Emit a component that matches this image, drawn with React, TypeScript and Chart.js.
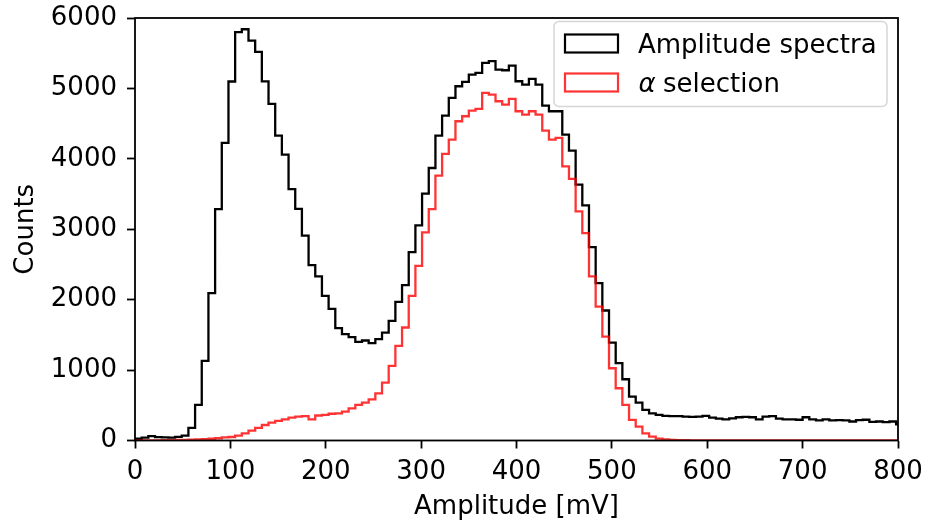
import React, { useEffect, useRef } from "react";
import { Chart, registerables } from "chart.js";

Chart.register(...registerables);

// Histogram bin edges [mV] (bin width 7 mV)
const binEdges = [
  0, 7, 14, 21, 28, 35, 42, 49, 56, 63, 70, 77, 84, 91, 98, 105, 112, 119, 126, 133,
  140, 147, 154, 161, 168, 175, 182, 189, 196, 203, 210, 217, 224, 231, 238, 245, 252, 259, 266, 273,
  280, 287, 294, 301, 308, 315, 322, 329, 336, 343, 350, 357, 364, 371, 378, 385, 392, 399, 406, 413,
  420, 427, 434, 441, 448, 455, 462, 469, 476, 483, 490, 497, 504, 511, 518, 525, 532, 539, 546, 553,
  560, 567, 574, 581, 588, 595, 602, 609, 616, 623, 630, 637, 644, 651, 658, 665, 672, 679, 686, 693,
  700, 707, 714, 721, 728, 735, 742, 749, 756, 763, 770, 777, 784, 791, 798, 805,
];

// Counts per bin: full amplitude spectrum
const amplitudeCounts = [
  25, 40, 62, 48, 45, 40, 52, 68, 180, 505,
  1130, 2093, 3287, 4226, 5098, 5800, 5840, 5680, 5520, 5100,
  4780, 4330, 4060, 3570, 3290, 2910, 2490, 2330, 2055, 1870,
  1595, 1510, 1467, 1400, 1420, 1382, 1440, 1533, 1700, 1970,
  2206, 2675, 3054, 3505, 3870, 4330, 4614, 4865, 5031, 5093,
  5197, 5220, 5363, 5387, 5268, 5258, 5325, 5102, 5055, 5136,
  5055, 4756, 4676, 4676, 4345, 4117, 3634, 3340, 2747, 2235,
  1846, 1390, 1100, 870, 623, 537, 434, 386, 363,
  350, 345, 345, 340, 335, 340, 350, 325, 310, 300,
  315, 330, 335, 330, 300, 340, 345, 310, 300, 300,
  295, 330, 300, 285, 300, 285, 290, 285, 270, 290,
  295, 265, 270, 260, 270, 230,
];

// Counts per bin: alpha selection
const alphaCounts = [
  0, 0, 2, 3, 5, 5, 8, 10, 12, 15,
  18, 25, 32, 45, 50, 70, 100, 140, 180, 220,
  255, 280, 300, 325, 340, 345, 300, 355, 365, 380,
  385, 410, 455, 505, 538, 585, 670, 822, 1059, 1344,
  1605, 2055, 2481, 2955, 3287, 3761, 4069, 4273, 4534, 4605,
  4685, 4709, 4937, 4913, 4818, 4771, 4851, 4676, 4628, 4676,
  4628, 4401, 4273, 4297, 3894, 3714, 3254, 2946, 2330, 1900,
  1476, 1026, 742, 505, 292, 197, 102, 55, 26, 15,
  10, 6, 4, 3,
  2, 2, 2, 1, 1, 1, 1, 1, 1, 1,
  1, 1, 1, 1, 0, 0, 0, 0, 0, 0,
  0, 0, 0, 0, 0, 0, 0, 0, 0, 0,
  0,
];

const xTicks = [0, 100, 200, 300, 400, 500, 600, 700, 800];
const yTicks = [0, 1000, 2000, 3000, 4000, 5000, 6000];

const seriesLabels = ["Amplitude spectra", "\u03b1 selection"];

const FONT = "'DejaVu Sans', sans-serif";
const BLACK = "#000000";
const RED = "rgba(255,0,0,0.8)";

function stepPoints(edges: number[], counts: number[]) {
  const pts: { x: number; y: number }[] = [{ x: edges[0], y: 0 }];
  for (let i = 0; i < counts.length; i++) pts.push({ x: edges[i], y: counts[i] });
  pts.push({ x: edges[counts.length], y: counts[counts.length - 1] });
  pts.push({ x: edges[counts.length], y: 0 });
  return pts;
}

const framePlugin = {
  id: "frame",
  afterDatasetsDraw(chart: any) {
    const { ctx, chartArea } = chart;
    ctx.save();
    ctx.strokeStyle = BLACK;
    ctx.lineWidth = 1.8;
    ctx.strokeRect(chartArea.left, chartArea.top, chartArea.right - chartArea.left, chartArea.bottom - chartArea.top);
    ctx.restore();
  },
};

const legendPlugin = {
  id: "mplLegend",
  afterDraw(chart: any) {
    const ctx = chart.ctx;
    ctx.save();
    const bx = 554, by = 21.5, bw = 333, bh = 85, r = 5;
    ctx.beginPath();
    ctx.moveTo(bx + r, by);
    ctx.lineTo(bx + bw - r, by);
    ctx.arcTo(bx + bw, by, bx + bw, by + r, r);
    ctx.lineTo(bx + bw, by + bh - r);
    ctx.arcTo(bx + bw, by + bh, bx + bw - r, by + bh, r);
    ctx.lineTo(bx + r, by + bh);
    ctx.arcTo(bx, by + bh, bx, by + bh - r, r);
    ctx.lineTo(bx, by + r);
    ctx.arcTo(bx, by, bx + r, by, r);
    ctx.closePath();
    ctx.fillStyle = "rgba(255,255,255,0.8)";
    ctx.fill();
    ctx.strokeStyle = "#d6d6d6";
    ctx.lineWidth = 1.5;
    ctx.stroke();

    const colors = [BLACK, RED];
    const centers = [43.5, 82.5];
    ctx.lineWidth = 2.2;
    for (let i = 0; i < 2; i++) {
      ctx.strokeStyle = colors[i];
      ctx.strokeRect(565, centers[i] - 9, 53, 18);
    }
    ctx.fillStyle = BLACK;
    ctx.textBaseline = "alphabetic";
    ctx.textAlign = "left";
    ctx.font = `26px ${FONT}`;
    ctx.fillText(seriesLabels[0], 638, 53.3);
    // alpha (italic, math style) + rest of label
    const [alpha, ...rest] = seriesLabels[1].split(" ");
    ctx.font = `italic 26px ${FONT}`;
    ctx.fillText(alpha, 638.5, 92.3);
    ctx.font = `26px ${FONT}`;
    ctx.fillText(rest.join(" "), 663, 92.3);
    ctx.restore();
  },
};

export default function App() {
  const canvasRef = useRef<HTMLCanvasElement | null>(null);

  useEffect(() => {
    document.body.style.margin = "0";
    const canvas = canvasRef.current;
    if (!canvas) return;
    const chart = new Chart(canvas, {
      type: "line",
      data: {
        datasets: [
          {
            label: seriesLabels[0],
            data: stepPoints(binEdges, amplitudeCounts),
            borderColor: BLACK,
            borderWidth: 2.3,
            stepped: true,
            pointRadius: 0,
            fill: false,
            order: 1,
          },
          {
            label: seriesLabels[1],
            data: stepPoints(binEdges, alphaCounts),
            borderColor: RED,
            borderWidth: 2.3,
            stepped: true,
            pointRadius: 0,
            fill: false,
            order: 0,
          },
        ],
      },
      options: {
        responsive: false,
        animation: false,
        devicePixelRatio: 1,
        layout: { padding: { left: 0, top: 18, right: 31, bottom: 0 } },
        plugins: {
          legend: { display: false },
          tooltip: { enabled: false },
        },
        scales: {
          x: {
            type: "linear",
            min: 0,
            max: 800,
            afterFit: (scale: any) => {
              scale.height = 83.5;
              scale.paddingLeft = 0;
              scale.paddingRight = 0;
            },
            afterBuildTicks: (scale: any) => {
              scale.ticks = xTicks.map((v) => ({ value: v }));
            },
            grid: {
              drawOnChartArea: false,
              drawTicks: true,
              tickLength: 8,
              tickColor: BLACK,
              tickWidth: 1.8,
            },
            border: { display: false },
            ticks: {
              color: BLACK,
              font: { family: FONT, size: 26 },
              padding: 8,
              maxRotation: 0,
              autoSkip: false,
              callback: (v: any) => String(v),
            },
            title: {
              display: true,
              text: "Amplitude [mV]",
              color: BLACK,
              font: { family: FONT, size: 26 },
              padding: { top: 0, bottom: 1.5 },
            },
          },
          y: {
            type: "linear",
            min: 0,
            max: 6000,
            afterFit: (scale: any) => {
              scale.width = 135;
              scale.paddingTop = 0;
              scale.paddingBottom = 0;
            },
            afterBuildTicks: (scale: any) => {
              scale.ticks = yTicks.map((v) => ({ value: v }));
            },
            grid: {
              drawOnChartArea: false,
              drawTicks: true,
              tickLength: 8,
              tickColor: BLACK,
              tickWidth: 1.8,
            },
            border: { display: false },
            ticks: {
              color: BLACK,
              font: { family: FONT, size: 26 },
              padding: 10,
              autoSkip: false,
              callback: (v: any) => String(v),
            },
            title: {
              display: true,
              text: "Counts",
              color: BLACK,
              font: { family: FONT, size: 26 },
              padding: { top: 10.4, bottom: 0 },
            },
          },
        },
      },
      plugins: [framePlugin, legendPlugin],
    });
    return () => chart.destroy();
  }, []);

  return (
    <div style={{ width: 929, height: 524 }}>
      <canvas ref={canvasRef} width={929} height={524} style={{ display: "block" }} />
    </div>
  );
}
